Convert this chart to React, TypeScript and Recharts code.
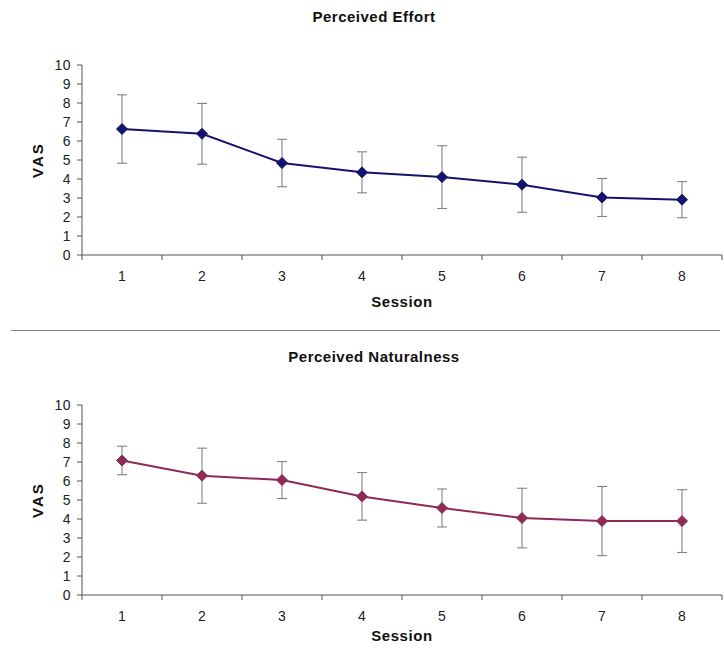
import { LineChart, Line, XAxis, YAxis, ErrorBar } from "recharts";

const sessions = [1, 2, 3, 4, 5, 6, 7, 8];
const effortMean = [6.63, 6.38, 4.84, 4.35, 4.1, 3.7, 3.03, 2.91];
const effortSd = [1.8, 1.6, 1.25, 1.08, 1.65, 1.45, 1.0, 0.95];
const naturalMean = [7.08, 6.28, 6.05, 5.19, 4.58, 4.05, 3.89, 3.89];
const naturalSd = [0.75, 1.45, 0.97, 1.25, 1.0, 1.57, 1.82, 1.65];
const vasTicks = [0, 1, 2, 3, 4, 5, 6, 7, 8, 9, 10];
const boundaryTicks = [0.5, 1.5, 2.5, 3.5, 4.5, 5.5, 6.5, 7.5, 8.5];

const FONT = '"Liberation Sans", Arial, Helvetica, sans-serif';
const AXIS = "#555";

// boundary axis only needs its tick marks, no labels
const noLabel = (props: any) => <g key={`b-${props.index}`} />;

const makeDiamond = (color: string) => (props: any) => {
  const { cx, cy, index } = props;
  if (cx == null || cy == null) return null;
  const r = 5.5;
  return (
    <polygon
      key={`d-${index}`}
      points={`${cx},${cy - r} ${cx + r},${cy} ${cx},${cy + r} ${cx - r},${cy}`}
      fill={color}
      stroke={color}
    />
  );
};

function Panel({
  title,
  mean,
  sd,
  color,
  top,
  height,
}: {
  title: string;
  mean: number[];
  sd: number[];
  color: string;
  top: number;
  height: number;
}) {
  const data = sessions.map((s, i) => ({ session: s, vas: mean[i], sd: sd[i] }));

  return (
    <div style={{ position: "absolute", left: 0, top, width: 724, height }}>
      <div
        style={{
          position: "absolute",
          left: 174,
          top: 9,
          width: 400,
          textAlign: "center",
          fontFamily: FONT,
          fontWeight: "bold",
          fontSize: 15,
          letterSpacing: 0.5,
          lineHeight: "16px",
          color: "#111",
        }}
      >
        {title}
      </div>
      <LineChart
        width={724}
        height={height}
        data={data}
        margin={{ top: 65, right: 2, left: 0, bottom: 0 }}
        style={{ fontFamily: FONT }}
      >
        <XAxis
          xAxisId="grid"
          dataKey="session"
          type="number"
          domain={[0.5, 8.5]}
          ticks={boundaryTicks}
          interval={0}
          height={1}
          tick={noLabel}
          tickSize={5}
          tickMargin={0}
          axisLine={{ stroke: AXIS }}
          tickLine={{ stroke: AXIS }}
        />
        <XAxis
          xAxisId="lbl"
          dataKey="session"
          type="number"
          domain={[0.5, 8.5]}
          ticks={sessions}
          interval={0}
          height={height - 65 - 190 - 1}
          axisLine={false}
          tickLine={false}
          tickSize={0}
          tickMargin={15}
          tick={{ fontSize: 14, fill: "#222" }}
          label={{
            value: "Session",
            position: "insideBottom",
            offset: 13,
            fontSize: 15,
            fontWeight: "bold",
            letterSpacing: 0.6,
            fill: "#111",
          }}
        />
        <YAxis
          domain={[0, 10]}
          ticks={vasTicks}
          interval={0}
          width={82}
          tickSize={5}
          tickMargin={6}
          axisLine={{ stroke: AXIS }}
          tickLine={{ stroke: AXIS }}
          tick={{ fontSize: 14, fill: "#222", letterSpacing: 0.5 }}
          label={{
            value: "VAS",
            angle: -90,
            position: "insideLeft",
            offset: 38,
            fontSize: 15,
            fontWeight: "bold",
            letterSpacing: 2,
            fill: "#111",
            style: { textAnchor: "middle" },
          }}
        />
        <Line
          xAxisId="lbl"
          type="linear"
          dataKey="vas"
          stroke={color}
          strokeWidth={2}
          dot={makeDiamond(color)}
          activeDot={false}
          isAnimationActive={false}
        >
          <ErrorBar dataKey="sd" direction="y" width={5} stroke="#777" strokeWidth={1} />
        </Line>
      </LineChart>
    </div>
  );
}

export default function App() {
  return (
    <div
      style={{
        position: "absolute",
        left: 0,
        top: 0,
        width: 724,
        height: 654,
        background: "#fff",
        overflow: "hidden",
      }}
    >
      <Panel
        title="Perceived Effort"
        mean={effortMean}
        sd={effortSd}
        color="#14146e"
        top={0}
        height={320}
      />
      <div
        style={{
          position: "absolute",
          left: 11,
          top: 330,
          width: 709,
          height: 1,
          background: "#888",
        }}
      />
      <Panel
        title="Perceived Naturalness"
        mean={naturalMean}
        sd={naturalSd}
        color="#8e2b55"
        top={340}
        height={314}
      />
    </div>
  );
}
